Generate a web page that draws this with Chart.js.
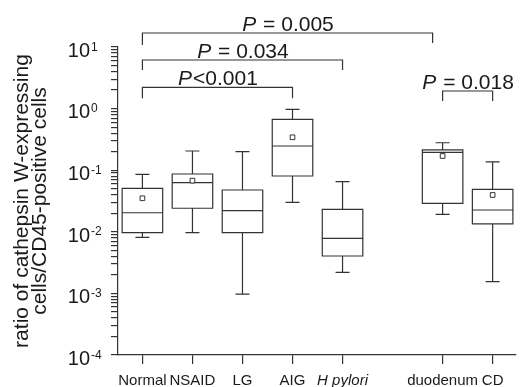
<!DOCTYPE html>
<html><head><meta charset="utf-8">
<script src="https://cdn.jsdelivr.net/npm/chart.js@4/dist/chart.umd.min.js"></script>
<style>html,body{margin:0;padding:0;background:#fff;}canvas{display:block;}</style>
</head><body>
<canvas id="c" width="521" height="387"></canvas>
<script>
// ---- data ----
const categories  = ['Normal', 'NSAID', 'LG', 'AIG', 'H pylori', '', 'duodenum', 'CD'];
const whiskerLow  = [0.0081, 0.0097, 0.00097, 0.030, 0.0022, null, 0.0192, 0.00155];
const q1          = [0.0097, 0.0241, 0.0097, 0.0805, 0.00405, null, 0.029, 0.0134];
const median      = [0.0204, 0.0627, 0.022, 0.247, 0.00784, null, 0.195, 0.0226];
const q3          = [0.0508, 0.0867, 0.0477, 0.67, 0.0232, null, 0.213, 0.049];
const whiskerHigh = [0.0858, 0.205, 0.1995, 0.975, 0.065, null, 0.279, 0.137];
const means       = [0.035, 0.0676, null, 0.342, null, null, 0.170, 0.0396];
const yTickExponents = [1, 0, -1, -2, -3, -4];
const yTitle = ['ratio of cathepsin W-expressing', 'cells/CD45-positive cells'];
const comparisons = [
  {from: 'Normal',   to: 'duodenum', italic: 'P', text: ' = 0.005'},
  {from: 'Normal',   to: 'H pylori', italic: 'P', text: ' = 0.034'},
  {from: 'Normal',   to: 'AIG',      italic: 'P', text: '<0.001'},
  {from: 'duodenum', to: 'CD',       italic: 'P', text: ' = 0.018'}
];

// ---- styles ----
const FAMILY = '"Liberation Sans", Arial, sans-serif';
const INK = '#333';
const TEXT = '#1a1a1a';
const bracketStyle = {
  levels: [33, 60, 87.3, 91],
  drops: [[12, 10], [10, 10], [11, 11], [10, 10]],
  endShift: [-10, 0, 0, 0]
};

const boxPlugin = {
  id: 'boxes',
  beforeDatasetsDraw(chart) {
    const {ctx, scales: {x, y}} = chart;
    const step = x.getPixelForValue(1) - x.getPixelForValue(0);
    const hw = step * 0.405, cw = step * 0.14;
    ctx.save();
    ctx.strokeStyle = INK;
    ctx.lineWidth = 1.2;
    categories.forEach((c, i) => {
      if (q1[i] == null) return;
      const xc = x.getPixelForValue(i);
      const yq1 = y.getPixelForValue(q1[i]);
      const yq3 = y.getPixelForValue(q3[i]);
      const ym = y.getPixelForValue(median[i]);
      const ylo = y.getPixelForValue(whiskerLow[i]);
      const yhi = y.getPixelForValue(whiskerHigh[i]);
      ctx.beginPath();
      ctx.rect(xc - hw, yq3, 2 * hw, yq1 - yq3);
      ctx.moveTo(xc - hw, ym); ctx.lineTo(xc + hw, ym);
      ctx.moveTo(xc, yq3); ctx.lineTo(xc, yhi);
      ctx.moveTo(xc - cw, yhi); ctx.lineTo(xc + cw, yhi);
      ctx.moveTo(xc, yq1); ctx.lineTo(xc, ylo);
      ctx.moveTo(xc - cw, ylo); ctx.lineTo(xc + cw, ylo);
      ctx.stroke();
    });
    ctx.restore();
  },
  afterDraw(chart) {
    const {ctx, scales: {x, y}} = chart;
    ctx.save();
    // y tick labels 10^n
    ctx.fillStyle = TEXT;
    const rx = y.right - 28;
    yTickExponents.forEach(e => {
      const py = y.getPixelForValue(Math.pow(10, e));
      ctx.font = '20px ' + FAMILY;
      ctx.textAlign = 'right';
      ctx.textBaseline = 'alphabetic';
      ctx.fillText('10', rx, py + 9.7);
      ctx.font = '12px ' + FAMILY;
      ctx.textAlign = 'left';
      ctx.fillText(String(e), rx + 1, py + 3.5);
    });
    // comparison brackets
    ctx.strokeStyle = INK;
    ctx.lineWidth = 1.2;
    comparisons.forEach((cmp, k) => {
      const x1 = x.getPixelForValue(categories.indexOf(cmp.from));
      const x2 = x.getPixelForValue(categories.indexOf(cmp.to)) + bracketStyle.endShift[k];
      const ly = bracketStyle.levels[k];
      const [d1, d2] = bracketStyle.drops[k];
      ctx.beginPath();
      ctx.moveTo(x1, ly + d1); ctx.lineTo(x1, ly); ctx.lineTo(x2, ly); ctx.lineTo(x2, ly + d2);
      ctx.stroke();
      const fi = 'italic 21px ' + FAMILY, fn = '21px ' + FAMILY;
      ctx.font = fi; const w1 = ctx.measureText(cmp.italic).width;
      ctx.font = fn; const w2 = ctx.measureText(cmp.text).width;
      let tx = (x1 + x2) / 2 - (w1 + w2) / 2;
      ctx.textAlign = 'left'; ctx.textBaseline = 'alphabetic';
      ctx.font = fi; ctx.fillText(cmp.italic, tx, ly - 2);
      ctx.font = fn; ctx.fillText(cmp.text, tx + w1 + 1, ly - 2);
    });
    ctx.restore();
  }
};

const meanPoints = means.map((m, i) => m == null ? null : {x: i, y: m}).filter(Boolean);

new Chart(document.getElementById('c'), {
  type: 'scatter',
  data: {
    datasets: [{
      data: meanPoints,
      pointStyle: 'rect',
      pointRadius: 3.3,
      borderColor: INK,
      backgroundColor: '#fff',
      borderWidth: 1,
      showLine: false
    }]
  },
  options: {
    responsive: false,
    animation: false,
    layout: {padding: {top: 47, right: 0, bottom: 0, left: 0}},
    plugins: {legend: {display: false}, tooltip: {enabled: false}},
    scales: {
      x: {
        type: 'linear',
        min: -0.488, max: 7.467,
        afterBuildTicks: s => {
          s.ticks = categories.map((c, i) => ({value: i})).filter(t => categories[t.value] !== '');
        },
        afterFit: s => { s.height = 32; },
        ticks: {
          callback: v => categories[v],
          autoSkip: false, maxRotation: 0, padding: 8,
          color: TEXT,
          font: c => ({family: FAMILY, size: 15,
            style: (c.tick && categories[c.tick.value] === 'H pylori') ? 'italic' : 'normal'})
        },
        grid: {drawOnChartArea: false, drawTicks: true, tickLength: 9, color: INK, lineWidth: 1.2},
        border: {display: true, color: INK, width: 1.2}
      },
      y: {
        type: 'logarithmic',
        min: 1e-4, max: 10,
        afterBuildTicks: s => {
          const t = [];
          for (let e = -4; e <= 1; e++) {
            for (let m = 1; m <= 9; m++) {
              const v = m * Math.pow(10, e);
              if (v <= 10.000001) t.push({value: v, major: m === 1});
            }
          }
          s.ticks = t;
        },
        afterFit: s => { s.width = 118; },
        ticks: {display: false},
        grid: {drawOnChartArea: false, drawTicks: true, tickLength: 7, color: INK, lineWidth: 1.2},
        border: {display: true, color: INK, width: 1.2},
        title: {
          display: true, text: yTitle, color: TEXT,
          font: {family: FAMILY, size: 21, lineHeight: '18px'},
          padding: {top: 13, bottom: 0}
        }
      }
    }
  },
  plugins: [boxPlugin]
});
</script>
</body></html>
